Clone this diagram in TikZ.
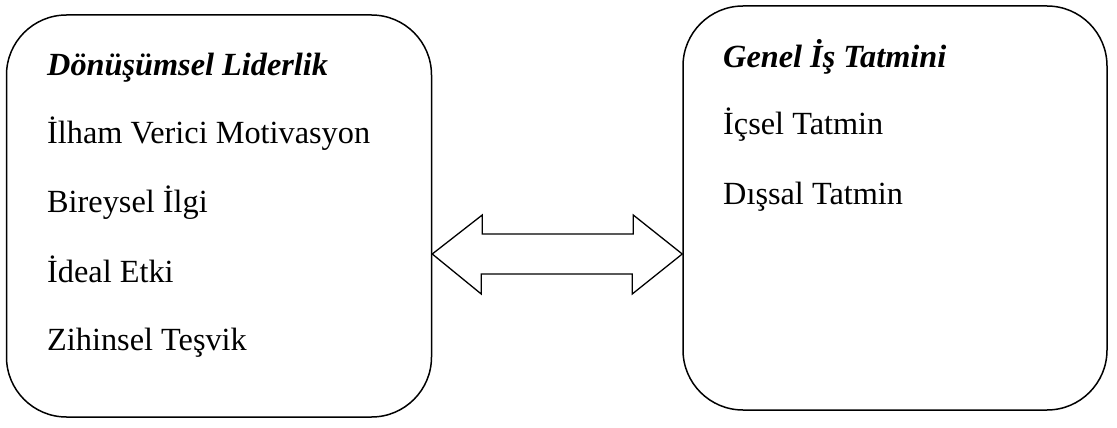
\documentclass[tikz,border=0pt]{standalone}
\usepackage{fontspec}
\setmainfont{Liberation Serif}
\begin{document}
\begin{tikzpicture}[x=1pt,y=-1pt,
  box/.style={draw=black,line width=1.5pt,rounded corners=60pt,inner sep=0pt},
  txt/.style={anchor=base west,inner sep=0pt,font=\fontsize{32.3}{38}\selectfont},
  ttl/.style={txt,font=\fontsize{32.3}{38}\selectfont\bfseries\itshape},
  arrowshape/.style={draw=black,line width=1.3pt,fill=white,line join=miter}]
\useasboundingbox (0,0) rectangle (1117,428);
\node[box,minimum width=425pt,minimum height=402pt] (L) at (219,216) {};
\node[box,minimum width=424pt,minimum height=404pt] (R) at (895,208) {};
\node[ttl] (l0) at (47,76) {Dönüşümsel Liderlik};
\node[txt] (l1) at (47,143) {İlham Verici Motivasyon};
\node[txt] (l2) at (47,212) {Bireysel İlgi};
\node[txt] (l3) at (47,282) {İdeal Etki};
\node[txt] (l4) at (47,350) {Zihinsel Teşvik};
\node[ttl] (r0) at (723,67) {Genel İş Tatmini};
\node[txt] (r1) at (723,135) {İçsel Tatmin};
\node[txt] (r2) at (723,204) {Dışsal Tatmin};
\coordinate (tipL) at (L.east |- 0,254);
\coordinate (tipR) at (R.west |- 0,254);
\draw[arrowshape] (tipL) -- ++(50,-39) -- ++(0,19) -- ++(151,0) -- ++(0,-19) -- (tipR)
  -- ++(-50,40) -- ++(0,-20) -- ++(-151,0) -- ++(0,20) -- cycle;
\end{tikzpicture}
\end{document}
